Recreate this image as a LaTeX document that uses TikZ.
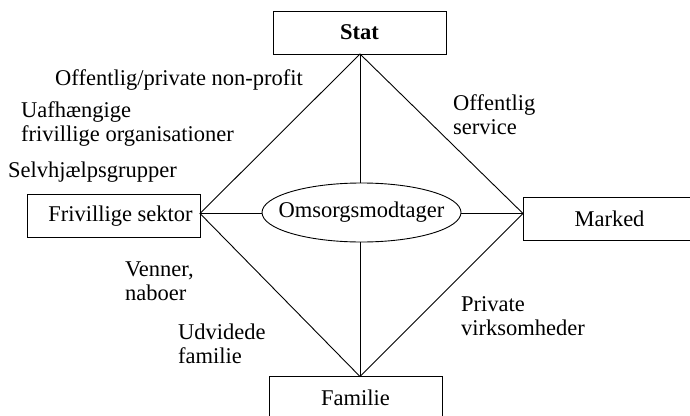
\documentclass[tikz,border=0pt]{standalone}
\usepackage{fontspec}
\setmainfont{Liberation Serif}
\usetikzlibrary{shapes.geometric}
\begin{document}
\begin{tikzpicture}[x=1pt,y=1pt,
  txt/.style={font=\fontsize{22.5}{24}\selectfont},
  box/.style={txt,draw,line width=0.9pt,minimum width=173pt,minimum height=43pt,inner sep=0pt},
  oval/.style={txt,draw,ellipse,line width=0.9pt,minimum width=199pt,minimum height=59pt,inner sep=0pt},
  lab/.style={txt,align=left,anchor=west,inner sep=0pt},
  conn/.style={line width=0.9pt}]
\useasboundingbox (0,0) rectangle (690,-415);
\node[box] (stat) at (359.5,-32.5) {\textbf{Stat}};
\node[box] (friv) at (113.5,-216) {\hspace*{14pt}Frivillige sektor};
\node[box] (marked) at (609.5,-218.5) {Marked};
\node[box] (familie) at (355.5,-398) {Familie};
\node[oval] (oms) at (361.5,-212.5) {\makebox[0pt][c]{Omsorgsmodtager}};
\coordinate (top) at (360,-54);
\coordinate (bot) at (360,-376.5);
\coordinate (lft) at (200,-213.5);
\coordinate (rgt) at (523,-213.5);
\draw[conn] (top) -- (lft) -- (bot) -- (rgt) -- cycle;
\draw[conn] (top) -- (top|-oms.north);
\draw[conn] (bot) -- (bot|-oms.south);
\draw[conn] (lft) -- (lft-|oms.west);
\draw[conn] (rgt-|oms.east) -- (rgt);
\node[lab] (l1) at (55,-80) {Offentlig/private non-profit};
\node[lab] (l2) at (21,-124) {Uafhængige\\frivillige organisationer};
\node[lab] (l3) at (8,-172) {Selvhjælpsgrupper};
\node[lab] (l4) at (453,-115) {Offentlig\\service};
\node[lab] (l5) at (125,-281) {Venner,\\naboer};
\node[lab] (l6) at (178,-344) {Udvidede\\familie};
\node[lab] (l7) at (461,-316) {Private\\virksomheder};
\end{tikzpicture}
\end{document}
